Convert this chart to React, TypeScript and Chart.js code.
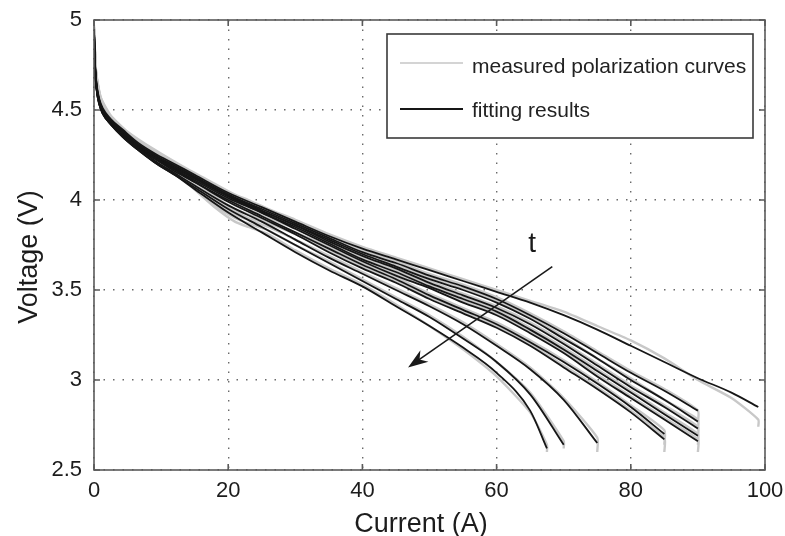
import React, { useEffect, useRef } from "react";
import { Chart, registerables } from "chart.js";

Chart.register(...registerables);

// ---------- data ----------
const fitCurrentGrid = [0, 0.15, 0.4, 0.8, 1.3, 2.5, 4.3, 6.5, 9, 12, 15, 20, 25, 30, 35, 40, 45, 50, 55, 60, 65, 70, 75, 80, 85, 90, 95];
const measCurrentGrid = [0, 0.3, 1, 2.5, 5, 9, 14, 18, 21, 23, 26, 30, 35, 40, 45, 50, 55, 60, 65, 70, 75, 80, 85, 90, 95];
const curveEnds = [99, 90, 90, 90, 90, 90, 85, 85, 75, 70, 67.5];

// fitting results (voltage at fitCurrentGrid points below the end, then at the end)
const fitA = [4.95, 4.76, 4.64, 4.56, 4.51, 4.45, 4.39, 4.32, 4.26, 4.20, 4.14, 4.04, 3.96, 3.88, 3.80, 3.73, 3.67, 3.61, 3.55, 3.49, 3.43, 3.36, 3.28, 3.19, 3.10, 3.01, 2.93, 2.85];
const fitB = [4.94, 4.75, 4.63, 4.55, 4.50, 4.44, 4.38, 4.31, 4.25, 4.19, 4.13, 4.03, 3.95, 3.87, 3.79, 3.71, 3.65, 3.58, 3.52, 3.45, 3.36, 3.26, 3.15, 3.04, 2.94, 2.83];
const fitC = [4.94, 4.75, 4.63, 4.55, 4.50, 4.44, 4.38, 4.31, 4.25, 4.19, 4.13, 4.03, 3.94, 3.86, 3.78, 3.70, 3.63, 3.56, 3.50, 3.43, 3.34, 3.23, 3.12, 3.00, 2.89, 2.77];
const fitD = [4.94, 4.75, 4.63, 4.55, 4.50, 4.44, 4.38, 4.31, 4.25, 4.18, 4.12, 4.02, 3.94, 3.86, 3.77, 3.69, 3.62, 3.54, 3.47, 3.40, 3.31, 3.20, 3.08, 2.96, 2.85, 2.73];
const fitE = [4.94, 4.74, 4.62, 4.54, 4.49, 4.43, 4.37, 4.30, 4.24, 4.18, 4.12, 4.02, 3.93, 3.85, 3.76, 3.67, 3.60, 3.52, 3.45, 3.38, 3.28, 3.17, 3.05, 2.93, 2.81, 2.69];
const fitF = [4.94, 4.74, 4.62, 4.54, 4.49, 4.43, 4.37, 4.30, 4.24, 4.17, 4.11, 4.01, 3.93, 3.84, 3.75, 3.66, 3.58, 3.51, 3.43, 3.36, 3.26, 3.15, 3.02, 2.90, 2.78, 2.66];
const fitG = [4.93, 4.74, 4.62, 4.54, 4.49, 4.43, 4.37, 4.30, 4.23, 4.17, 4.10, 4.00, 3.91, 3.82, 3.73, 3.64, 3.56, 3.47, 3.39, 3.31, 3.21, 3.10, 2.98, 2.85, 2.70];
const fitH = [4.93, 4.74, 4.62, 4.54, 4.49, 4.43, 4.36, 4.29, 4.23, 4.16, 4.10, 3.99, 3.90, 3.81, 3.71, 3.62, 3.54, 3.45, 3.37, 3.29, 3.19, 3.07, 2.95, 2.82, 2.67];
const fitI = [4.93, 4.73, 4.61, 4.53, 4.48, 4.42, 4.36, 4.29, 4.22, 4.15, 4.08, 3.97, 3.88, 3.78, 3.68, 3.59, 3.50, 3.41, 3.31, 3.19, 3.06, 2.89, 2.65];
const fitJ = [4.93, 4.73, 4.61, 4.53, 4.48, 4.42, 4.35, 4.28, 4.21, 4.14, 4.07, 3.95, 3.85, 3.75, 3.65, 3.55, 3.45, 3.35, 3.23, 3.10, 2.92, 2.64];
const fitK = [4.93, 4.73, 4.61, 4.53, 4.48, 4.42, 4.35, 4.28, 4.21, 4.14, 4.06, 3.93, 3.82, 3.71, 3.61, 3.52, 3.41, 3.30, 3.18, 3.04, 2.83, 2.62];

// measured curves (voltage at measCurrentGrid points below the end, then at the end, then the final drop)
const measA = [4.97, 4.72, 4.57, 4.47, 4.38, 4.28, 4.17, 4.09, 4.03, 4.00, 3.95, 3.89, 3.81, 3.74, 3.68, 3.62, 3.56, 3.50, 3.44, 3.38, 3.30, 3.22, 3.12, 3.00, 2.90, 2.78, 2.74];
const measB = [4.96, 4.71, 4.57, 4.46, 4.37, 4.27, 4.16, 4.08, 4.02, 3.99, 3.94, 3.88, 3.80, 3.72, 3.66, 3.59, 3.53, 3.46, 3.37, 3.27, 3.16, 3.05, 2.95, 2.83, 2.76];
const measC = [4.96, 4.71, 4.56, 4.46, 4.37, 4.27, 4.16, 4.07, 4.01, 3.97, 3.93, 3.87, 3.79, 3.71, 3.64, 3.57, 3.51, 3.44, 3.35, 3.24, 3.12, 3.01, 2.89, 2.78, 2.72];
const measD = [4.95, 4.71, 4.56, 4.45, 4.36, 4.26, 4.15, 4.06, 4.00, 3.96, 3.92, 3.86, 3.78, 3.70, 3.63, 3.55, 3.48, 3.41, 3.32, 3.21, 3.09, 2.97, 2.86, 2.74, 2.68];
const measE = [4.95, 4.70, 4.56, 4.45, 4.36, 4.26, 4.15, 4.05, 3.99, 3.95, 3.91, 3.85, 3.77, 3.68, 3.61, 3.53, 3.46, 3.39, 3.29, 3.18, 3.06, 2.94, 2.82, 2.70, 2.64];
const measF = [4.95, 4.70, 4.55, 4.45, 4.36, 4.26, 4.14, 4.04, 3.97, 3.94, 3.90, 3.84, 3.76, 3.67, 3.59, 3.52, 3.44, 3.37, 3.27, 3.16, 3.03, 2.91, 2.79, 2.67, 2.60];
const measG = [4.95, 4.70, 4.55, 4.44, 4.35, 4.25, 4.13, 4.02, 3.95, 3.92, 3.88, 3.82, 3.74, 3.65, 3.57, 3.48, 3.40, 3.32, 3.22, 3.11, 2.99, 2.86, 2.72, 2.64];
const measH = [4.95, 4.70, 4.55, 4.44, 4.35, 4.25, 4.12, 4.01, 3.94, 3.90, 3.87, 3.81, 3.72, 3.63, 3.55, 3.46, 3.38, 3.30, 3.20, 3.08, 2.96, 2.83, 2.68, 2.60];
const measI = [4.94, 4.69, 4.54, 4.44, 4.34, 4.24, 4.11, 3.99, 3.92, 3.89, 3.85, 3.78, 3.69, 3.60, 3.51, 3.42, 3.32, 3.20, 3.07, 2.90, 2.68, 2.60];
const measJ = [4.94, 4.69, 4.54, 4.43, 4.34, 4.24, 4.10, 3.97, 3.90, 3.87, 3.83, 3.75, 3.66, 3.56, 3.46, 3.36, 3.24, 3.10, 2.93, 2.66, 2.62];
const measK = [4.94, 4.69, 4.54, 4.43, 4.33, 4.23, 4.09, 3.96, 3.88, 3.85, 3.81, 3.72, 3.62, 3.53, 3.42, 3.30, 3.17, 3.02, 2.82, 2.64, 2.60];

const fitSeries = [fitA, fitB, fitC, fitD, fitE, fitF, fitG, fitH, fitI, fitJ, fitK];
const measSeries = [measA, measB, measC, measD, measE, measF, measG, measH, measI, measJ, measK];

const xTicks = [0, 20, 40, 60, 80, 100];
const yTicks = [2.5, 3, 3.5, 4, 4.5, 5];

const xTitle = "Current (A)";
const yTitle = "Voltage (V)";
const legendLabels = ["measured polarization curves", "fitting results"];
const arrowLabel = "t";
const arrowFrom = { x: 68.3, y: 3.63 };
const arrowTo = { x: 46.8, y: 3.07 };
const arrowLabelAt = { x: 65.3, y: 3.755 };

// ---------- helpers ----------
function fitPoints(volts: number[], end: number) {
  const xs = fitCurrentGrid.filter((c) => c < end);
  xs.push(end);
  return xs.map((c, i) => ({ x: c, y: volts[i] })).filter((p) => p.y !== undefined);
}
function measPoints(volts: number[], end: number) {
  const xs = measCurrentGrid.filter((c) => c < end);
  xs.push(end, end);
  return xs.map((c, i) => ({ x: c, y: volts[i] })).filter((p) => p.y !== undefined);
}

const FONT = "'Liberation Sans', Arial, Helvetica, sans-serif";
const GRAY = "#c8c8c8";
const BLACK = "#161616";

const decorPlugin = {
  id: "decor",
  afterDatasetsDraw(chart: any) {
    const { ctx, chartArea: a, scales } = chart;
    const xs = scales.x;
    const ys = scales.y;
    ctx.save();
    // frame
    ctx.strokeStyle = "#5a5a5a";
    ctx.lineWidth = 1.6;
    ctx.setLineDash([]);
    ctx.strokeRect(a.left, a.top, a.right - a.left, a.bottom - a.top);
    // inward ticks
    ctx.beginPath();
    xTicks.forEach((t) => {
      const px = xs.getPixelForValue(t);
      ctx.moveTo(px, a.bottom); ctx.lineTo(px, a.bottom - 6);
      ctx.moveTo(px, a.top); ctx.lineTo(px, a.top + 6);
    });
    yTicks.forEach((t) => {
      const py = ys.getPixelForValue(t);
      ctx.moveTo(a.left, py); ctx.lineTo(a.left + 6, py);
      ctx.moveTo(a.right, py); ctx.lineTo(a.right - 6, py);
    });
    ctx.stroke();

    // arrow
    const x0 = xs.getPixelForValue(arrowFrom.x);
    const y0 = ys.getPixelForValue(arrowFrom.y);
    const x1 = xs.getPixelForValue(arrowTo.x);
    const y1 = ys.getPixelForValue(arrowTo.y);
    const ang = Math.atan2(y1 - y0, x1 - x0);
    const ux = Math.cos(ang), uy = Math.sin(ang);
    const nx = -uy, ny = ux;
    ctx.strokeStyle = "#1a1a1a";
    ctx.fillStyle = "#1a1a1a";
    ctx.lineWidth = 1.6;
    ctx.beginPath();
    ctx.moveTo(x0, y0);
    ctx.lineTo(x1 - ux * 10, y1 - uy * 10);
    ctx.stroke();
    ctx.beginPath();
    ctx.moveTo(x1, y1);
    ctx.lineTo(x1 - ux * 20 + nx * 7, y1 - uy * 20 + ny * 7);
    ctx.lineTo(x1 - ux * 14, y1 - uy * 14);
    ctx.lineTo(x1 - ux * 20 - nx * 7, y1 - uy * 20 - ny * 7);
    ctx.closePath();
    ctx.fill();
    ctx.font = `28px ${FONT}`;
    ctx.textAlign = "center";
    ctx.textBaseline = "alphabetic";
    ctx.fillText(arrowLabel, xs.getPixelForValue(arrowLabelAt.x), ys.getPixelForValue(arrowLabelAt.y) + 8);

    // legend box
    const bx = 387, by = 34, bw = 366, bh = 104;
    ctx.fillStyle = "#ffffff";
    ctx.fillRect(bx, by, bw, bh);
    ctx.strokeStyle = "#3a3a3a";
    ctx.lineWidth = 1.6;
    ctx.strokeRect(bx, by, bw, bh);
    ctx.lineWidth = 2.2;
    ctx.strokeStyle = "#d4d4d4";
    ctx.beginPath(); ctx.moveTo(400, 63); ctx.lineTo(463, 63); ctx.stroke();
    ctx.strokeStyle = BLACK;
    ctx.lineWidth = 1.8;
    ctx.beginPath(); ctx.moveTo(400, 109); ctx.lineTo(463, 109); ctx.stroke();
    ctx.fillStyle = "#222";
    ctx.font = `21px ${FONT}`;
    ctx.textAlign = "left";
    ctx.textBaseline = "alphabetic";
    ctx.fillText(legendLabels[0], 472, 73);
    ctx.fillText(legendLabels[1], 472, 117);

    // axis titles
    ctx.fillStyle = "#1c1c1c";
    ctx.font = `27px ${FONT}`;
    ctx.textAlign = "center";
    ctx.fillText(xTitle, 421, 532);
    ctx.save();
    ctx.translate(37, 257);
    ctx.rotate(-Math.PI / 2);
    ctx.fillText(yTitle, 0, 0);
    ctx.restore();

    ctx.restore();
  },
};

export default function App() {
  const ref = useRef<HTMLCanvasElement | null>(null);
  useEffect(() => {
    if (!ref.current) return;
    const datasets: any[] = [];
    fitSeries.forEach((v, i) => {
      datasets.push({
        label: `fit ${i + 1}`,
        data: fitPoints(v, curveEnds[i]),
        borderColor: BLACK,
        borderWidth: 1.8,
        pointRadius: 0,
        fill: false,
        cubicInterpolationMode: "monotone",
        order: 0,
      });
    });
    measSeries.forEach((v, i) => {
      datasets.push({
        label: `measured ${i + 1}`,
        data: measPoints(v, curveEnds[i]),
        borderColor: GRAY,
        borderWidth: 2.4,
        pointRadius: 0,
        fill: false,
        tension: 0.2,
        order: 1,
      });
    });

    const chart = new Chart(ref.current, {
      type: "line",
      data: { datasets },
      options: {
        animation: false,
        responsive: false,
        devicePixelRatio: 1,
        layout: { padding: { left: 0, right: 20, top: 20, bottom: 0 } },
        plugins: { legend: { display: false }, tooltip: { enabled: false } },
        scales: {
          x: {
            type: "linear",
            min: 0,
            max: 100,
            afterFit: (s: any) => { s.height = 66; s.paddingLeft = 0; s.paddingRight = 0; },
            afterBuildTicks: (s: any) => { s.ticks = xTicks.map((v) => ({ value: v })); },
            ticks: { color: "#1c1c1c", font: { size: 22, family: FONT }, padding: 8, maxRotation: 0, callback: (v: any) => String(v) },
            grid: { color: "#6a6a6a", lineWidth: 1.4, drawTicks: false },
            border: { display: false, dash: [1.5, 8] },
          },
          y: {
            type: "linear",
            min: 2.5,
            max: 5,
            afterFit: (s: any) => { s.width = 94; s.paddingTop = 0; s.paddingBottom = 0; },
            afterBuildTicks: (s: any) => { s.ticks = yTicks.map((v) => ({ value: v })); },
            ticks: { color: "#1c1c1c", font: { size: 22, family: FONT }, padding: 12, callback: (v: any) => String(v) },
            grid: { color: "#6a6a6a", lineWidth: 1.4, drawTicks: false },
            border: { display: false, dash: [1.5, 8] },
          },
        },
      },
      plugins: [decorPlugin],
    } as any);
    return () => chart.destroy();
  }, []);

  return (
    <div style={{ position: "fixed", left: 0, top: 0, width: 785, height: 536, background: "#fff" }}>
      <canvas ref={ref} width={785} height={536} style={{ width: 785, height: 536, display: "block" }} />
    </div>
  );
}
